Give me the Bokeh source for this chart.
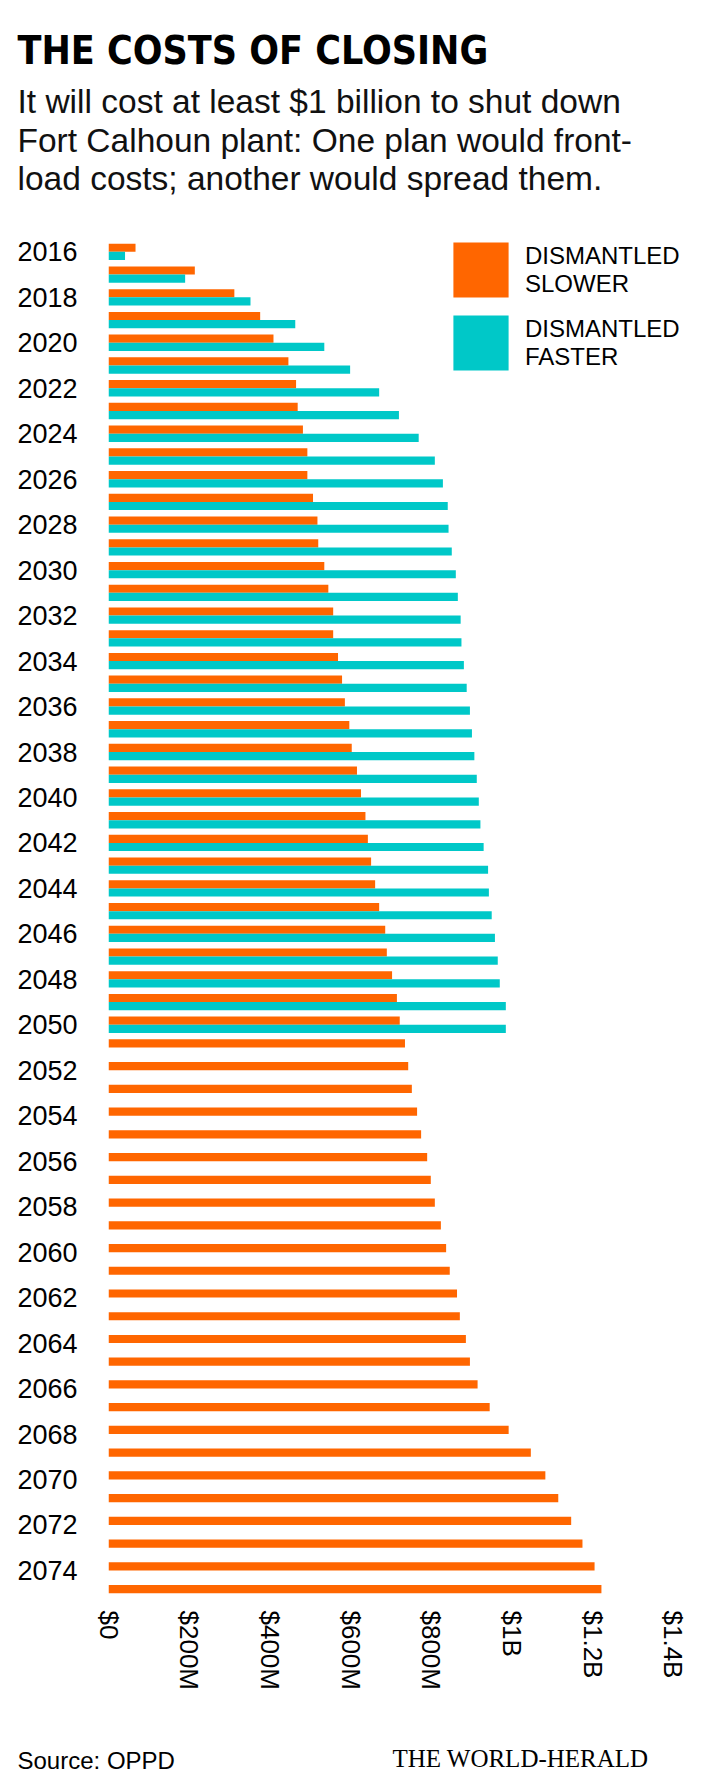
import math
from bokeh.plotting import figure
from bokeh.models import Range1d, FixedTicker, Label, Legend, LegendItem, ColumnDataSource
from bokeh.transform import dodge
from bokeh.embed import file_html
from bokeh.resources import INLINE

# ---------------- data (millions of dollars) ----------------
years = list(range(2016, 2076))
slower = [67, 214, 312, 376, 409, 446, 465, 469, 482, 493,
          493, 507, 518, 520, 535, 545, 557, 557, 569, 579,
          586, 597, 603, 616, 626, 637, 643, 651, 661, 671,
          686, 690, 703, 715, 722, 735, 743, 752, 765, 775,
          790, 799, 809, 824, 837, 846, 864, 871, 886, 896,
          915, 945, 992, 1047, 1083, 1115, 1147, 1175, 1205, 1222]
faster_years = list(range(2016, 2051))
faster = [41, 190, 352, 463, 535, 599, 671, 720, 769, 809,
          829, 841, 843, 851, 861, 866, 873, 875, 881, 888,
          896, 901, 907, 913, 918, 922, 930, 941, 943, 950,
          958, 965, 970, 985, 985]
x_ticks = [0, 200, 400, 600, 800, 1000, 1200, 1400]
x_tick_labels = ["$0", "$200M", "$400M", "$600M", "$800M", "$1B", "$1.2B", "$1.4B"]
y_ticks = list(range(2016, 2075, 2))
y_tick_labels = [str(y) for y in y_ticks]
series_labels = ["DISMANTLED\nSLOWER", "DISMANTLED\nFASTER"]
title_text = "THE COSTS OF CLOSING"
subtitle_lines = ["It will cost at least $1 billion to shut down",
                  "Fort Calhoun plant: One plan would front-",
                  "load costs; another would spread them."]
source_text = "Source: OPPD"
credit_text = "THE WORLD-HERALD"

ORANGE = "#FF6600"
TEAL = "#00C8C8"
W = 725
HEADER_H = 220
MAIN_H = 1485
FOOTER_H = 85


def blank(h):
    f = figure(width=W, height=h, x_range=Range1d(0, W), y_range=Range1d(h, 0),
               toolbar_location=None, output_backend="svg", min_border=0,
               x_axis_location=None, y_axis_location=None, title=None)
    f.grid.visible = False
    f.outline_line_color = None
    f.background_fill_color = "white"
    f.border_fill_color = "white"
    return f


# ---------------- header ----------------
header = blank(HEADER_H)
header.add_layout(Label(x=17, y=50, text=title_text,
                        text_font="'DejaVu Sans Condensed', 'Liberation Sans', sans-serif",
                        text_font_style="bold", text_font_size="39px",
                        text_baseline="alphabetic", text_color="black"))
for i, line in enumerate(subtitle_lines):
    header.add_layout(Label(x=17, y=101 + i * 38.5, text=line, text_font="Liberation Sans",
                            text_font_size="33.5px", text_baseline="alphabetic",
                            text_color="#111111"))

# ---------------- main chart ----------------
p = figure(width=W, height=MAIN_H, x_range=Range1d(0, 1480), y_range=Range1d(2075.5, 2015.5),
           toolbar_location=None, output_backend="svg", title=None,
           min_border_left=108, min_border_right=20, min_border_top=20, min_border_bottom=101)
p.grid.visible = False
p.outline_line_color = None
p.background_fill_color = "white"
p.border_fill_color = "white"

src_slow = ColumnDataSource(dict(year=years, value=slower))
src_fast = ColumnDataSource(dict(year=faster_years, value=faster))
r_slow = p.hbar(y=dodge("year", -0.18, range=p.y_range), right="value", left=0, height=0.36,
                source=src_slow, fill_color=ORANGE, line_color=None)
r_fast = p.hbar(y=dodge("year", 0.18, range=p.y_range), right="value", left=0, height=0.36,
                source=src_fast, fill_color=TEAL, line_color=None)

xa = p.xaxis[0]
xa.ticker = FixedTicker(ticks=x_ticks)
xa.major_label_overrides = {t: l for t, l in zip(x_ticks, x_tick_labels)}
xa.major_label_orientation = -math.pi / 2
xa.axis_line_color = None
xa.major_tick_line_color = None
xa.minor_tick_line_color = None
xa.major_tick_out = 0
xa.major_label_standoff = 6
xa.major_label_text_font = "Liberation Sans"
xa.major_label_text_font_size = "26px"
xa.major_label_text_color = "black"

ya = p.yaxis[0]
ya.ticker = FixedTicker(ticks=y_ticks)
ya.major_label_overrides = {t: l for t, l in zip(y_ticks, y_tick_labels)}
ya.axis_line_color = None
ya.major_tick_line_color = None
ya.minor_tick_line_color = None
ya.major_tick_out = 0
ya.major_label_standoff = 31
ya.major_label_text_font = "Liberation Sans"
ya.major_label_text_font_size = "27px"
ya.major_label_text_color = "black"

legend = Legend(items=[LegendItem(label=series_labels[0], renderers=[r_slow]),
                       LegendItem(label=series_labels[1], renderers=[r_fast])],
                location=(338, 1227), glyph_width=69, glyph_height=69, label_standoff=10,
                spacing=4, padding=0, margin=0, border_line_color=None,
                background_fill_alpha=0, label_text_font="Liberation Sans",
                label_text_font_size="24px", label_text_line_height=1.33,
                label_text_color="black")
p.add_layout(legend)

# ---------------- footer ----------------
footer = blank(FOOTER_H)
footer.add_layout(Label(x=17, y=55, text=source_text, text_font="Liberation Sans",
                        text_font_size="24px", text_baseline="alphabetic", text_color="black"))
footer.add_layout(Label(x=520, y=53, text=credit_text, text_font="Liberation Serif",
                        text_font_size="25px", text_baseline="alphabetic", text_align="center",
                        text_color="black"))

open("out.html", "w").write(file_html([header, p, footer], INLINE))
